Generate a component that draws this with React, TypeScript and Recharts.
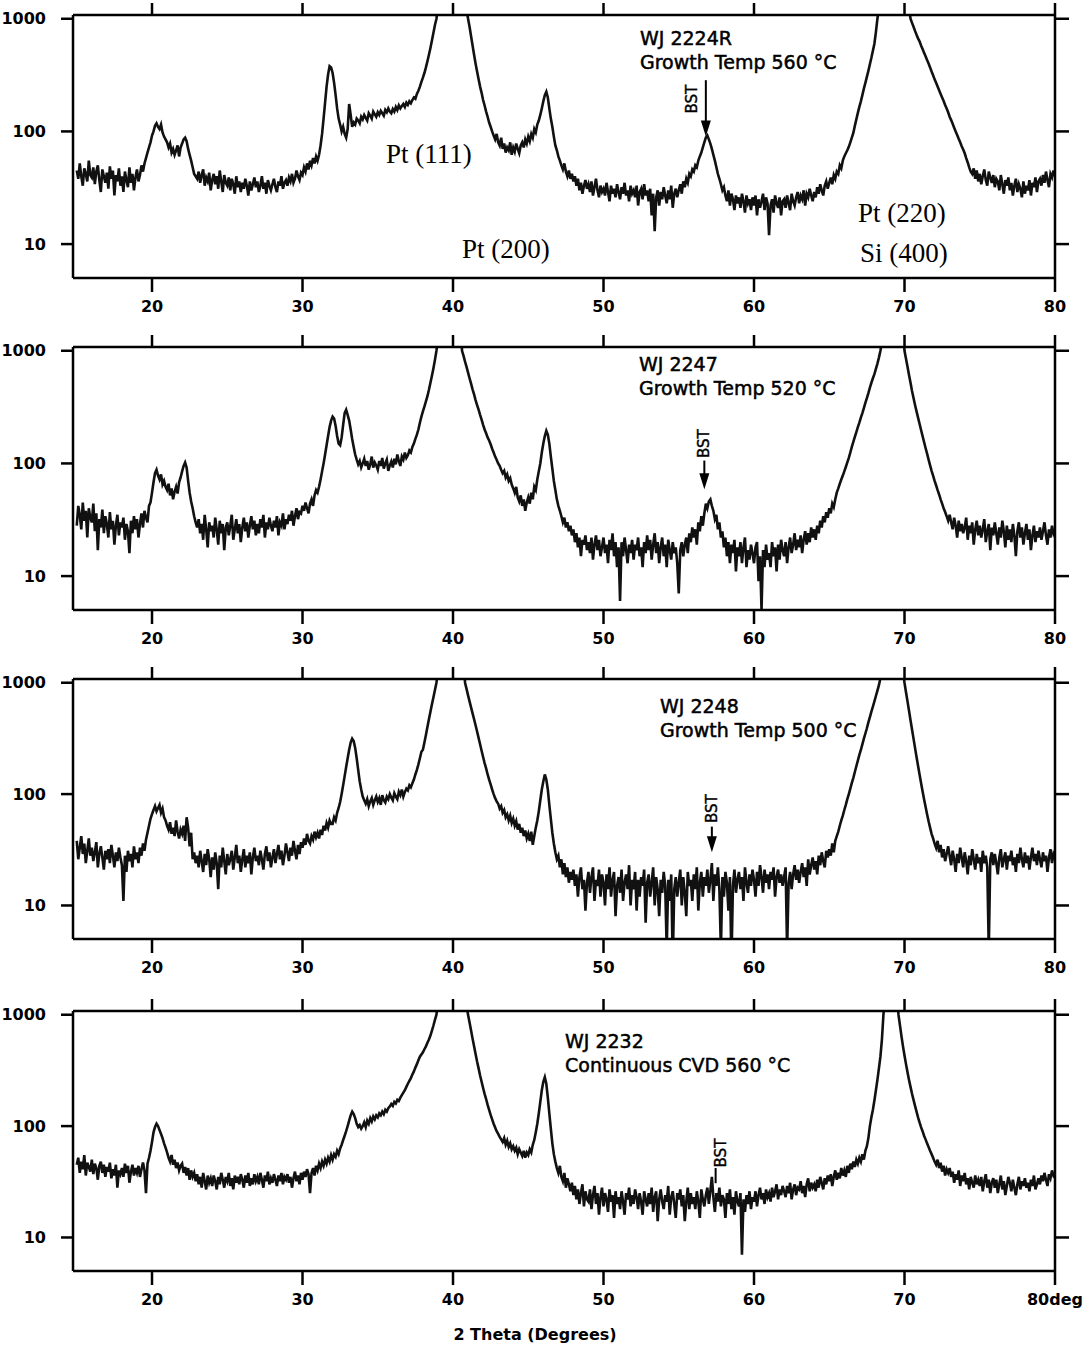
import React from "react";
import { LineChart, Line, XAxis, YAxis, ReferenceLine } from "recharts";

// scan grid: 15.0 .. 80.0 deg, 0.1 deg per point
const START = 15;
const STEP = 0.1;

const counts2224R = [
  45,38,52,40,33,47,42,36,55,41,
  39,48,34,44,50,37,29,46,40,35,
  43,31,49,38,45,27,41,36,47,33,
  40,29,44,37,32,48,35,42,30,39,
  46,36,41,50,44,52,58,65,72,80,
  92,100,112,118,110,105,115,98,90,85,
  80,72,78,65,70,62,68,75,60,72,
  78,85,88,82,70,62,55,48,42,40,
  38,44,35,41,46,33,39,36,43,30,
  37,42,34,40,31,45,36,29,41,35,
  33,39,30,38,34,28,40,32,36,29,
  35,31,38,33,27,36,30,34,39,32,
  36,29,33,40,31,35,28,37,33,30,
  34,38,32,29,36,33,40,31,35,37,
  33,39,36,42,35,38,45,40,37,43,
  41,48,44,52,46,55,50,58,52,60,
  55,62,75,95,130,180,250,320,380,370,
  330,270,210,160,130,115,100,110,95,88,
  105,175,140,110,120,115,130,125,118,135,
  128,140,132,125,145,138,130,150,142,135,
  148,140,152,145,138,155,148,160,150,145,
  158,150,165,155,170,160,168,175,165,180,
  172,185,178,190,200,195,215,230,250,275,
  300,330,370,420,480,550,640,750,880,1000,
  1300,1800,2500,3500,5000,7000,10000,14000,20000,30000,
  40000,30000,18000,11000,7000,4500,3000,2100,1500,1200,
  1000,850,700,580,480,400,340,290,250,220,
  190,170,150,135,120,110,100,92,85,95,
  80,75,88,70,78,65,72,68,80,62,
  72,66,78,70,64,75,80,72,85,78,
  90,82,95,88,105,98,115,125,140,160,
  185,210,225,200,160,130,110,90,75,68,
  60,55,50,46,52,44,40,45,38,42,
  36,40,33,38,30,35,28,33,37,31,
  34,29,36,27,32,38,30,26,33,29,
  31,27,35,29,24,33,28,31,26,34,
  29,25,32,28,35,27,30,24,33,28,
  30,26,33,22,29,31,25,34,27,30,
  24,31,18,28,13,26,30,22,29,25,
  32,27,23,30,25,33,21,28,31,26,
  30,34,28,36,32,38,35,42,40,46,
  44,50,48,55,60,65,72,80,88,92,
  85,78,70,62,55,48,42,38,34,30,
  32,27,24,30,22,28,25,20,27,23,
  26,21,28,24,19,27,23,25,20,26,
  22,27,18,25,21,24,28,20,26,23,
  12,22,25,19,27,23,21,26,18,24,
  25,21,27,23,20,28,24,22,26,29,
  23,27,25,30,22,28,26,31,27,24,
  29,26,32,28,34,30,27,33,36,31,
  35,39,34,41,38,44,42,50,47,55,
  60,64,68,73,80,88,97,112,128,146,
  165,185,210,240,270,305,345,395,450,520,
  600,760,1000,1250,1700,2400,3500,5000,8000,12000,
  20000,30000,45000,60000,60000,45000,30000,20000,12000,8000,
  5000,3000,1800,1250,1000,920,850,780,720,670,
  630,580,540,500,465,430,400,370,340,315,
  290,270,250,232,215,200,186,172,160,148,
  135,126,117,108,100,93,86,80,74,69,
  64,58,53,48,44,42,47,38,45,36,
  42,34,40,46,37,33,44,39,35,41,
  32,38,36,30,41,34,28,37,33,39,
  30,35,27,33,38,29,34,31,26,36,
  28,33,30,37,27,35,32,39,29,36,
  38,33,41,35,44,37,32,42,39,45,
  40,
];

const counts2247 = [
  28,42,35,26,45,31,38,22,40,33,
  30,44,25,36,17,32,27,39,24,34,
  29,22,37,26,31,19,28,35,23,30,
  27,33,21,29,25,16,31,24,34,26,
  32,22,29,36,27,38,33,30,42,45,
  55,68,82,88,78,72,80,65,70,62,
  58,66,52,60,48,56,62,54,68,75,
  85,95,102,92,70,55,46,40,34,30,
  27,32,24,29,21,35,26,18,30,25,
  28,22,33,26,19,31,24,29,17,27,
  30,23,28,35,21,26,32,24,29,20,
  27,33,25,30,22,28,34,26,31,23,
  29,24,32,27,35,22,30,26,33,28,
  25,31,27,34,23,30,28,36,26,32,
  29,35,31,38,28,34,40,32,37,36,
  42,38,45,40,36,44,48,42,52,58,
  55,62,72,85,100,120,145,175,210,240,
  260,250,215,175,150,145,170,220,280,300,
  270,240,200,165,140,120,108,98,105,92,
  100,110,95,105,88,98,115,92,102,96,
  88,105,95,112,90,100,108,86,96,104,
  92,110,98,120,105,95,115,108,125,112,
  118,130,125,140,150,165,180,200,230,260,
  290,320,355,395,450,520,600,700,830,1000,
  1300,1800,2600,4000,6000,9000,14000,20000,30000,40000,
  30000,18000,10000,5500,3000,1700,1000,900,800,720,
  640,570,510,455,410,365,330,300,270,245,
  220,200,185,170,160,148,135,125,115,108,
  100,95,88,82,86,75,80,70,74,65,
  60,55,62,50,46,52,42,48,38,45,
  50,44,55,48,62,58,72,85,100,125,
  150,175,195,180,150,115,90,70,58,48,
  42,38,34,30,33,27,30,25,28,23,
  26,20,24,18,22,15,21,19,23,17,
  20,16,22,14,19,23,17,21,15,18,
  22,16,19,13,21,17,24,15,20,12,
  18,6,20,15,22,17,13,19,16,21,
  14,19,17,22,15,18,12,20,16,23,
  17,21,14,19,24,16,20,13,18,22,
  15,19,12,21,17,14,20,16,18,13,
  7,17,20,15,19,22,16,24,20,27,
  22,26,19,30,25,34,28,36,44,40,
  46,48,42,38,32,35,26,30,22,25,
  18,22,15,20,13,19,16,21,11,18,
  15,20,13,18,22,12,17,14,19,16,
  13,18,20,9,15,5,17,12,19,14,
  16,12,20,15,18,11,19,14,21,17,
  15,20,13,18,22,16,19,24,17,21,
  18,23,16,21,25,19,24,20,27,22,
  26,21,28,24,31,27,34,30,37,33,
  40,36,44,41,48,55,60,66,72,78,
  85,93,102,112,125,140,155,172,190,210,
  230,255,280,310,345,380,420,470,520,570,
  620,690,770,870,1000,1200,1600,2300,3500,5000,
  8000,12000,18000,22000,20000,15000,9000,5000,2800,1600,
  1000,850,720,610,520,440,380,330,290,255,
  225,198,175,155,137,122,108,96,86,78,
  70,64,58,53,48,44,40,37,34,31,
  35,30,26,33,28,22,31,25,29,24,
  27,33,21,28,24,30,19,26,31,23,
  28,22,26,32,20,25,29,17,27,23,
  30,24,19,27,22,31,25,18,28,21,
  26,20,29,23,15,25,30,22,27,19,
  24,29,21,26,17,23,28,20,25,22,
  27,21,25,30,23,19,26,22,28,24,
  26,
];

const counts2248 = [
  38,26,33,42,29,36,24,31,40,28,
  33,25,30,37,22,29,34,27,21,31,
  26,32,24,35,28,22,30,25,33,27,
  23,11,28,20,31,25,29,22,34,26,
  30,24,33,28,36,31,39,45,52,60,
  66,72,78,70,75,80,68,74,62,58,
  52,48,56,44,50,42,58,46,40,48,
  44,52,38,62,50,34,45,26,30,24,
  28,22,31,25,20,29,23,32,26,18,
  27,21,30,24,14,28,22,33,25,19,
  29,23,26,31,21,27,35,24,28,20,
  26,32,22,28,24,30,19,27,33,25,
  28,23,31,26,21,29,34,25,30,22,
  27,32,24,29,35,26,31,23,28,36,
  30,25,33,28,38,31,26,35,29,37,
  33,40,35,44,38,36,42,39,46,41,
  45,40,48,43,52,47,55,50,58,54,
  54,62,58,68,75,85,100,120,145,175,
  210,250,290,315,300,260,210,165,130,110,
  95,88,82,90,78,86,92,80,88,95,
  85,92,80,98,88,84,95,90,100,93,
  88,102,95,90,105,98,110,95,104,112,
  108,120,115,125,135,150,165,185,210,240,
  250,290,340,400,470,550,640,740,860,1000,
  1300,1800,2600,4000,6000,9000,14000,20000,30000,40000,
  40000,30000,20000,12000,7000,4000,2500,1600,1000,880,
  770,680,600,530,470,415,365,320,280,245,
  215,190,170,150,135,122,110,100,92,86,
  82,74,78,68,72,62,66,58,64,55,
  60,52,57,48,54,45,50,42,47,40,
  44,38,46,35,42,50,58,70,88,110,
  130,150,135,110,80,60,45,36,30,26,
  28,22,26,19,24,18,22,16,20,17,
  21,15,19,12,18,22,14,17,9,16,
  20,13,18,22,11,17,15,21,12,19,
  16,10,19,14,22,12,17,20,8,15,
  18,13,21,11,16,19,14,23,10,17,
  14,20,9,17,12,18,15,21,7,16,
  19,12,16,22,10,18,14,8,17,13,
  20,15,4,17,11,19,3,14,18,12,
  16,21,10,18,13,8,20,15,17,11,
  19,14,22,9,16,20,12,18,15,21,
  13,17,24,11,19,15,22,14,4,18,
  12,20,16,9,18,3,15,21,13,17,
  20,14,18,11,22,16,13,19,15,21,
  17,12,20,15,23,18,13,21,16,19,
  14,20,17,22,12,18,21,16,19,15,
  18,22,4,16,20,14,19,23,17,21,
  16,20,24,18,22,15,26,19,23,27,
  21,25,19,28,23,30,25,22,31,27,
  32,28,36,30,38,42,46,52,58,64,
  72,80,90,100,112,126,140,158,178,200,
  225,250,280,315,350,390,440,490,550,610,
  680,760,850,950,1100,1400,1800,2500,3600,5000,
  8000,12000,18000,22000,18000,12000,7000,4000,2200,1300,
  1000,820,680,560,460,380,315,260,215,180,
  150,126,106,90,77,66,57,50,44,40,
  36,33,38,30,35,27,32,25,29,34,
  28,23,31,26,20,29,24,33,27,22,
  30,25,19,28,23,32,26,21,29,24,
  27,20,31,24,28,22,4,26,30,23,
  29,24,19,27,32,22,26,30,21,28,
  25,31,23,27,20,29,24,33,26,22,
  30,24,28,21,27,33,25,29,23,31,
  26,22,30,25,28,20,27,32,24,29,
  27,
];

const counts2232 = [
  45,52,38,48,41,55,36,47,43,39,
  50,37,46,42,33,44,48,38,45,35,
  43,39,47,34,41,36,45,28,40,37,
  42,35,46,38,44,31,39,45,36,42,
  38,44,35,41,47,40,25,46,52,60,
  72,88,98,105,100,92,85,78,70,64,
  58,52,48,55,45,50,42,47,40,44,
  46,38,43,36,42,33,40,35,38,32,
  37,30,35,28,38,32,27,36,31,34,
  29,36,32,27,35,30,38,33,28,35,
  32,38,29,34,27,36,31,35,30,37,
  33,28,36,31,38,29,34,30,37,32,
  35,30,38,33,28,36,32,39,30,34,
  31,37,33,29,36,32,38,30,35,33,
  37,31,35,28,34,39,32,36,30,38,
  33,39,35,41,37,25,38,42,36,44,
  40,46,42,48,44,50,46,52,48,55,
  50,56,53,60,56,63,68,75,82,90,
  100,112,125,135,128,118,105,98,102,95,
  100,108,98,112,105,118,110,122,115,125,
  120,130,125,135,128,140,135,145,150,158,
  152,165,160,172,168,180,190,200,210,225,
  240,255,270,290,310,335,360,390,420,440,
  460,490,520,560,600,650,720,800,900,1000,
  1300,1800,2600,4000,6000,9000,14000,20000,30000,40000,
  45000,40000,30000,20000,12000,7000,4000,2500,1600,1200,
  1000,850,720,610,520,445,380,330,285,250,
  220,195,175,155,140,126,115,105,97,90,
  85,80,76,72,78,68,74,65,70,62,
  66,60,64,56,62,58,54,60,52,58,
  55,62,58,68,75,88,105,130,165,210,
  250,275,240,180,130,95,70,56,48,42,
  38,44,35,32,38,28,34,30,26,31,
  24,29,22,27,20,25,30,19,26,22,
  21,27,18,24,29,20,25,16,23,28,
  19,25,22,17,27,21,24,15,26,20,
  23,18,26,21,16,25,22,28,19,24,
  20,27,23,18,25,21,16,26,22,19,
  25,20,28,17,23,26,14,22,27,21,
  18,24,21,29,16,23,26,20,15,25,
  22,27,19,24,14,21,28,18,25,20,
  23,18,26,21,15,27,22,19,24,28,
  20,26,35,23,17,25,21,28,19,24,
  22,15,25,20,27,18,23,16,26,21,
  19,25,7,22,17,24,20,26,18,23,
  21,26,19,24,28,22,25,20,27,23,
  25,21,28,23,26,30,22,27,24,29,
  26,23,29,25,31,22,27,30,24,28,
  27,32,25,29,23,30,34,26,31,28,
  30,26,33,28,35,31,27,34,30,36,
  32,37,29,35,40,33,38,34,42,36,
  40,35,44,38,46,41,48,43,50,46,
  52,48,56,50,60,66,78,100,120,140,
  170,210,260,330,420,600,1000,1400,2200,3500,
  5000,6000,5000,3500,2200,1500,1000,800,640,520,
  430,360,305,260,225,195,172,152,135,120,
  108,98,90,82,76,70,65,60,56,52,
  48,45,50,42,47,39,44,36,41,38,
  42,35,39,31,37,33,40,29,36,32,
  38,30,34,27,35,31,28,36,30,33,
  29,35,26,32,37,28,33,25,31,34,
  28,33,25,30,36,27,32,24,29,35,
  31,26,33,28,24,30,35,27,32,29,
  34,28,31,26,33,29,36,27,30,34,
  30,36,32,38,33,29,37,34,40,36,
  38,
];

const xTicks = [20, 30, 40, 50, 60, 70, 80];
const yTicks = [10, 100, 1000];
const X_DOMAIN: [number, number] = [14.75, 80];
const Y_DOMAIN: [number, number] = [5, 1080];

const toRows = (counts: number[]) =>
  counts.map((c, i) => ({ angle: +(START + i * STEP).toFixed(1), counts: c }));

const ink = "#000";
const frame = { stroke: ink, strokeWidth: 2.5 };
const tickFont = { fontFamily: "DejaVu Sans", fontWeight: 700, fontSize: 16, fill: ink };
const noteFont = { fontFamily: "DejaVu Sans", fontSize: 19, fill: ink, stroke: ink, strokeWidth: 0.5 };
const peakFont = { fontFamily: "Liberation Serif", fontSize: 27, fill: ink };

type Bst = { x: number; from: number; to: number; dx: number; dy: number; head: boolean };

type Panel = {
  counts: number[];
  title: string;
  sub: string;
  tx: number;
  ty: number;
  bst: Bst;
  height: number;
  plot: number;
  last?: boolean;
};

const panels: Panel[] = [
  { counts: counts2224R, title: "WJ 2224R", sub: "Growth Temp 560 °C", tx: 640, ty: 45, height: 332, plot: 263,
    bst: { x: 56.8, from: 285, to: 90, dx: -14, dy: 19, head: true } },
  { counts: counts2247, title: "WJ 2247", sub: "Growth Temp 520 °C", tx: 639, ty: 39, height: 332, plot: 263,
    bst: { x: 56.7, from: 106, to: 59, dx: 0, dy: -17, head: true } },
  { counts: counts2248, title: "WJ 2248", sub: "Growth Temp 500 °C", tx: 660, ty: 49, height: 332, plot: 260,
    bst: { x: 57.2, from: 51, to: 30, dx: 0, dy: -18, head: true } },
  { counts: counts2232, title: "WJ 2232", sub: "Continuous CVD 560 °C", tx: 565, ty: 52, height: 353, plot: 260, last: true,
    bst: { x: 57.45, from: 42, to: 32, dx: 5, dy: -15, head: false } },
];

const bstShape = (b: Bst) => (props: any) => {
  const { x1, y1, x2, y2 } = props;
  const head = b.head ? 16 : 0;
  const cx = x1 + b.dx;
  const cy = y1 + b.dy;
  return (
    <g>
      <line x1={x1} y1={y1} x2={x2} y2={y2 - head + 2} stroke={ink} strokeWidth={2} />
      {b.head && (
        <polygon points={`${x2 - 5},${y2 - head} ${x2 + 5},${y2 - head} ${x2},${y2}`} fill={ink} />
      )}
      <text
        x={cx}
        y={cy}
        transform={`rotate(-90 ${cx} ${cy})`}
        textAnchor="middle"
        dominantBaseline="central"
        fontFamily="DejaVu Sans"
        fontSize={15}
        fill={ink}
        stroke={ink}
        strokeWidth={0.4}
      >
        BST
      </text>
    </g>
  );
};

function XrdPanel({ p, first }: { p: Panel; first: boolean }) {
  const rows = toRows(p.counts);
  const axisHeight = p.height - 15 - p.plot;
  return (
    <LineChart width={1089} height={p.height} data={rows} margin={{ top: 14, right: 33, bottom: 0, left: 0 }}>
      <XAxis
        dataKey="angle"
        type="number"
        domain={X_DOMAIN}
        allowDataOverflow
        ticks={xTicks}
        interval={0}
        height={axisHeight}
        tickSize={14}
        tickMargin={9}
        tick={tickFont}
        axisLine={frame}
        tickLine={frame}
        tickFormatter={(v: number) => (p.last && v === 80 ? "80deg" : String(v))}
      />
      <XAxis
        xAxisId="top"
        orientation="top"
        dataKey="angle"
        type="number"
        domain={X_DOMAIN}
        allowDataOverflow
        ticks={xTicks}
        interval={0}
        height={1}
        tickSize={12}
        axisLine={frame}
        tickLine={frame}
        tickFormatter={() => ""}
      />
      <YAxis
        type="number"
        scale="log"
        domain={Y_DOMAIN}
        allowDataOverflow
        ticks={yTicks}
        interval={0}
        width={73}
        tickSize={12}
        tickMargin={15}
        tick={tickFont}
        axisLine={frame}
        tickLine={frame}
      />
      <YAxis
        yAxisId="right"
        orientation="right"
        type="number"
        scale="log"
        domain={Y_DOMAIN}
        allowDataOverflow
        ticks={yTicks}
        interval={0}
        width={1}
        tickSize={14}
        axisLine={frame}
        tickLine={frame}
        tickFormatter={() => ""}
      />
      <Line
        dataKey="counts"
        type="linear"
        stroke="#111"
        strokeWidth={2.6}
        dot={false}
        isAnimationActive={false}
      />
      <ReferenceLine
        segment={[{ x: p.bst.x, y: p.bst.from }, { x: p.bst.x, y: p.bst.to }]}
        shape={bstShape(p.bst)}
      />
      <text x={p.tx} y={p.ty} {...noteFont}>{p.title}</text>
      <text x={p.tx} y={p.ty + 24} {...noteFont}>{p.sub}</text>
      {first && (
        <g>
          <text x={386} y={163} {...peakFont}>Pt (111)</text>
          <text x={462} y={258} {...peakFont}>Pt (200)</text>
          <text x={858} y={222} {...peakFont}>Pt (220)</text>
          <text x={860} y={262} {...peakFont}>Si (400)</text>
        </g>
      )}
      {p.last && (
        <text x={535} y={344} textAnchor="middle" {...tickFont}>2 Theta (Degrees)</text>
      )}
    </LineChart>
  );
}

export default function App() {
  return (
    <div style={{ position: "absolute", left: 0, top: 0, width: 1089, height: 1349, background: "#fff" }}>
      {panels.map((p, i) => (
        <XrdPanel key={p.title} p={p} first={i === 0} />
      ))}
    </div>
  );
}
